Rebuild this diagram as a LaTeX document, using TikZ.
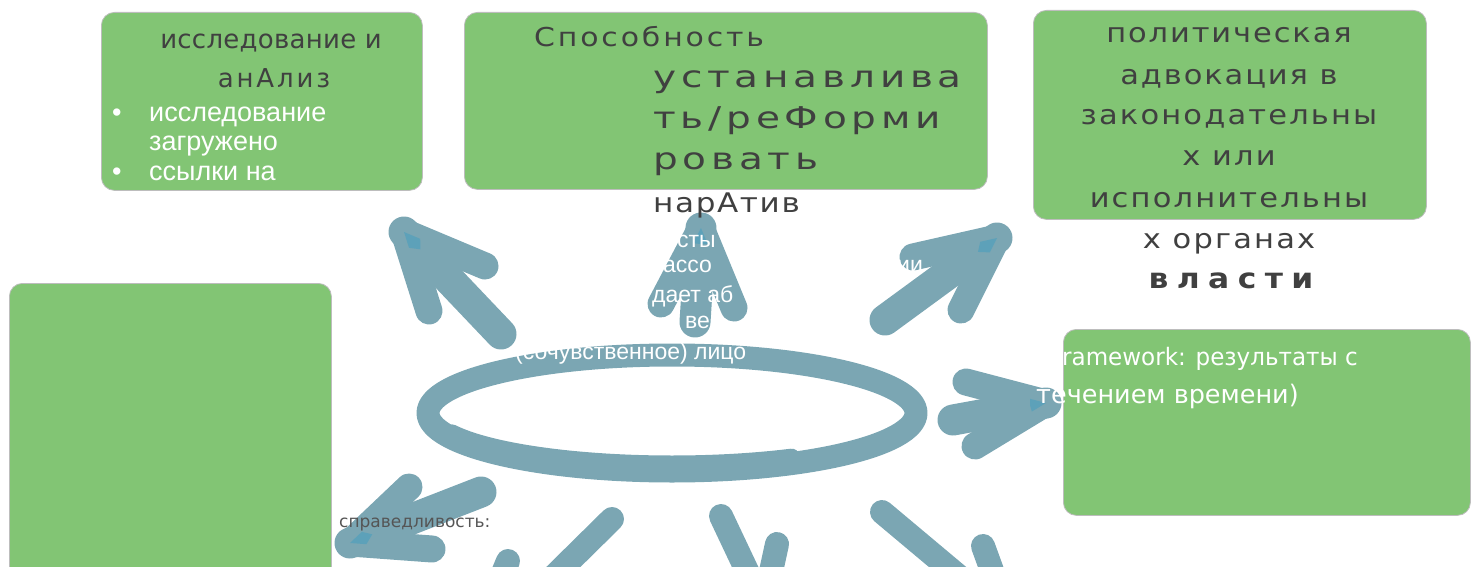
\documentclass[tikz,border=0pt]{standalone}
\usepackage{fontspec}
\setmainfont{DejaVu Sans}
\newfontfamily\hdfont{DejaVu Sans}
\newfontfamily\bodyfont{Liberation Sans}
\usetikzlibrary{calc}

\definecolor{boxgreen}{HTML}{82C574}
\definecolor{boxedge}{HTML}{BDBDBD}
\definecolor{inkblue}{HTML}{7BA6B3}
\definecolor{inktip}{HTML}{4A9FBD}
\definecolor{txtdark}{HTML}{404040}
\definecolor{txtsmall}{HTML}{555555}

\tikzset{
  card/.style={fill=boxgreen, draw=boxedge, line width=0.8pt, rounded corners=13pt, inner sep=0pt},
  inkline/.style={draw=inkblue, line width=#1, line cap=round, line join=round},
  inkline/.default=20pt,
  % heading text: size, horizontal stretch, letter spacing
  hd/.style n args={3}{font={\hdfont\fontsize{#1}{#1}\selectfont\addfontfeature{FakeStretch=#2,LetterSpace=#3}},
                    text=txtdark, inner sep=0pt},
  hdbold/.style n args={3}{font={\hdfont\bfseries\fontsize{#1}{#1}\selectfont\addfontfeature{FakeStretch=#2,LetterSpace=#3}},
                    text=txtdark, inner sep=0pt},
  wt/.style={font={\bodyfont\fontsize{#1}{#1}\selectfont}, text=white, inner sep=0pt},
  wd/.style 2 args={font={\hdfont\fontsize{#1}{#1}\selectfont\addfontfeature{FakeStretch=#2}}, text=white, inner sep=0pt},
}

% a hand-drawn arrow: name, tip, shaft end, two barb ends
\newcommand\handarrow[5]{%
  \coordinate (#1t) at #2;
  \coordinate (#1b) at #3;
  \coordinate (#1l) at #4;
  \coordinate (#1r) at #5;
  \draw[inkline=31pt] (#1b) -- (#1t);
  \draw[inkline=27pt] (#1l) -- (#1t);
  \draw[inkline=27pt] (#1r) -- (#1t);
  \fill[inktip, opacity=.6] (#1t) -- ($(#1t)!0.2!(#1l)$) -- ($(#1t)!0.17!(#1b)$)
       -- ($(#1t)!0.2!(#1r)$) -- cycle;
}

\begin{document}
\begin{tikzpicture}[x=1pt, y=-1pt]
\useasboundingbox (0,0) rectangle (1478,567);
\clip (0,0) rectangle (1478,567);

% ---------- cards ----------
\node[card, anchor=north west, minimum width=321pt, minimum height=178pt] (cardA) at (101,12) {};
\node[card, anchor=north west, minimum width=523pt, minimum height=177pt] (cardB) at (464,12) {};
\node[card, anchor=north west, minimum width=393pt, minimum height=209pt] (cardC) at (1033,10) {};
\node[card, anchor=north west, minimum width=407pt, minimum height=186pt] (cardD) at (1063,329) {};
\node[card, anchor=north west, minimum width=322pt, minimum height=320pt] (cardE) at (9,283) {};

% ---------- central oval ----------
\coordinate (ov) at (672,413);
\draw[inkline=23pt] (ov) ellipse [x radius=244pt, y radius=58pt];
\draw[inkline=17pt] ($(ov)+(203:239pt and 51pt)$)
     arc[start angle=203, end angle=300, x radius=239pt, y radius=51pt];

% ---------- arrows ----------
\handarrow{aA}{(404,232)}{(501,334)}{(485,266)}{(429,311)}
\handarrow{aB}{(701,228)}{(695,322)}{(661,304)}{(734,308)}
\handarrow{aC}{(997,238)}{(885,320)}{(913,257)}{(961,310)}
\handarrow{aD}{(1046,403)}{(953,420)}{(966,382)}{(975,446)}
\handarrow{aE}{(350,543)}{(481,492)}{(409,487)}{(432,549)}

% strokes running off the lower edge
\coordinate (s1a) at (612,519); \coordinate (s1b) at (540,590);
\coordinate (s2a) at (508,561); \coordinate (s2b) at (496,590);
\coordinate (s3a) at (721,516); \coordinate (s3b) at (756,590);
\coordinate (s4a) at (777,544); \coordinate (s4b) at (767,590);
\coordinate (s5a) at (882,512); \coordinate (s5b) at (975,590);
\coordinate (s6a) at (983,546); \coordinate (s6b) at (999,590);
\foreach \p in {s1,s2,s3,s4,s5,s6} \draw[inkline=24pt] (\p a) -- (\p b);

% ---------- card A ----------
\node[hd={26pt}{1}{1}, anchor=base] (tA1) at (271,49) {исследование и};
\node[hd={26pt}{1}{11}, anchor=base] (tA2) at (274,88) {анАлиз};
\node[wt=27pt, anchor=base west] (bA1) at (112,122) {•};
\node[wt=27pt, anchor=base west] (tA3) at (149,122) {исследование};
\node[wt=27pt, anchor=base west] (tA4) at (149,150) {загружено};
\node[wt=27pt, anchor=base west] (bA2) at (112,180) {•};
\node[wt=27pt, anchor=base west] (tA5) at (149,180) {ссылки на};

% ---------- card B ----------
\node[hd={26pt}{1.15}{11}, anchor=base west] (tB1) at (534,47) {Способность};
\node[hd={30pt}{1.3}{16}, anchor=base west] (tB2) at (653,88) {устанавлива};
\node[hd={30pt}{1.3}{16}, anchor=base west] (tB3) at (653,129) {ть/реФорми};
\node[hd={30pt}{1.3}{16}, anchor=base west] (tB4) at (653,170) {ровать};
\node[hd={27pt}{1.15}{6}, anchor=base west] (tB5) at (653,212) {нарАтив};

% ---------- card C ----------
\node[hd={27pt}{1.13}{7}, anchor=base] (tC1) at (1229,43) {политическая};
\node[hd={27pt}{1.13}{7}, anchor=base] (tC2) at (1229,85) {адвокация в};
\node[hd={27pt}{1.13}{8}, anchor=base] (tC3) at (1229,125) {законодательны};
\node[hd={27pt}{1.13}{8}, anchor=base] (tC4) at (1229,165) {х или};
\node[hd={27pt}{1.13}{8}, anchor=base] (tC5) at (1229,207) {исполнительны};
\node[hd={27pt}{1.13}{8}, anchor=base] (tC6) at (1229,248) {х органах};
\node[hdbold={28pt}{1.12}{30}, anchor=base] (tC7) at (1231,288) {власти};

% ---------- card D ----------
\node[wd={24pt}{0.96}, anchor=base east] (tD1) at (1358,365) {framework: результаты с};
\node[wd={25.5pt}{1}, anchor=base east] (tD2) at (1299,403) {течением времени)};

% ---------- centre labels ----------
\node[wt=23pt, anchor=base west] (tM1) at (677,247) {сты};
\node[wt=23pt, anchor=base west] (tM2) at (663,272) {ассо};
\node[wt=23pt, anchor=base west] (tM3) at (897,272) {ии};
\node[wt=23pt, anchor=base west] (tM4) at (652,302) {дает аб};
\node[wt=23pt, anchor=base west] (tM5) at (685,328) {ве};
\node[wt=23pt, anchor=base west] (tM6) at (515,359) {(сочувственное) лицо};

% ---------- lower left label ----------
\node[font={\hdfont\fontsize{17pt}{17pt}\selectfont}, text=txtsmall, inner sep=0pt, anchor=base west] (tE1) at (339,527) {справедливость:};
\end{tikzpicture}
\end{document}
